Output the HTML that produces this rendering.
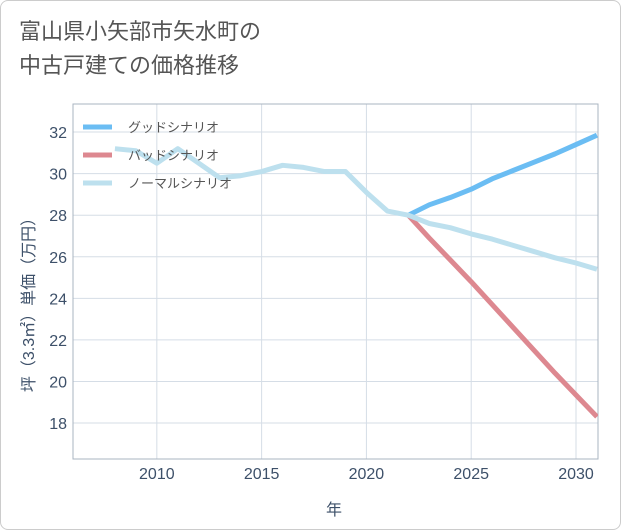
<!DOCTYPE html>
<html><head><meta charset="utf-8"><style>
body{margin:0;background:#fff;font-family:"Liberation Sans","Noto Sans CJK JP",sans-serif;}
#card{position:absolute;left:0;top:0;width:619px;height:528px;border:1px solid #ccc;border-radius:8px;background:#fff;}
#title{position:absolute;left:18px;top:14px;font-size:22px;line-height:34px;color:#555;}
</style></head><body>
<div id="card">
<div id="title">富山県小矢部市矢水町の<br>中古戸建ての価格推移</div>
<svg id="chart" width="621" height="530" style="position:absolute;left:0;top:0"></svg>
</div>
<script>
const years=[2008,2009,2010,2011,2012,2013,2014,2015,2016,2017,2018,2019,2020,2021,2022,2023,2024,2025,2026,2027,2028,2029,2030,2031];
const normal=[31.2,31.1,30.5,31.2,30.5,29.8,29.9,30.1,30.4,30.3,30.1,30.1,29.1,28.2,28.0,27.6,27.4,27.1,26.85,26.55,26.25,25.95,25.7,25.4];
const goodYears=[2022,2023,2024,2025,2026,2027,2028,2029,2030,2031];
const good=[28.0,28.5,28.85,29.25,29.75,30.15,30.55,30.95,31.4,31.85];
const bad=[28.0,26.9,25.85,24.8,23.7,22.6,21.5,20.4,19.35,18.3];
const xTicks=[2010,2015,2020,2025,2030];
const yTicks=[18,20,22,24,26,28,30,32];
const L=72,R=597,T=103,B=458,x0=2006,x1=2031.05,y0=16.27,y1=33.35;
const X=v=>L+(v-x0)/(x1-x0)*(R-L), Y=v=>B-(v-y0)/(y1-y0)*(B-T);
const svg=document.getElementById('chart'),NS='http://www.w3.org/2000/svg';
function mk(t,a,p){const e=document.createElementNS(NS,t);for(const k in a)e.setAttribute(k,a[k]);(p||svg).appendChild(e);return e;}
const defs=mk('defs',{});const cp=mk('clipPath',{id:'c'},defs);mk('rect',{x:L,y:T,width:R-L,height:B-T},cp);
xTicks.forEach(v=>{const l=mk('line',{x1:X(v),x2:X(v),y1:T,y2:B,stroke:'#d5dde6','stroke-width':1});

const t=mk('text',{x:X(v),y:B+20,'text-anchor':'middle','font-size':16,fill:'#3d5069'});t.textContent=v;
});
yTicks.forEach(v=>{const l=mk('line',{x1:L,x2:R,y1:Y(v),y2:Y(v),stroke:'#d5dde6','stroke-width':1});

const t=mk('text',{x:L-6,y:Y(v)+6,'text-anchor':'end','font-size':16,fill:'#3d5069'});t.textContent=v;
});
const fr=mk('rect',{x:L,y:T,width:R-L,height:B-T,fill:'none',stroke:'#aab4c0','stroke-width':1});

function line(xs,ys,c,n){const p=mk('polyline',{points:xs.map((v,i)=>X(v)+','+Y(ys[i])).join(' '),fill:'none',stroke:c,'stroke-width':5,'stroke-linejoin':'round','clip-path':'url(#c)'});
}
line(goodYears,bad,'#dd8890','bad-scenario-line');
line(goodYears,good,'#6bbdf3','good-scenario-line');
line(years,normal,'#bde0ee','normal-scenario-line');
const leg=[['グッドシナリオ','#6bbdf3'],['バッドシナリオ','#dd8890'],['ノーマルシナリオ','#bde0ee']];
leg.forEach((d,i)=>{const y=126+i*28;
const l=mk('line',{x1:82,x2:111,y1:y,y2:y,stroke:d[1],'stroke-width':5});
const t=mk('text',{x:127,y:y+5,'font-size':13,fill:'#555'});t.textContent=d[0];});
const xt=mk('text',{x:333,y:514,'text-anchor':'middle','font-size':16,fill:'#3d5069'});xt.textContent='年';

const yt=mk('text',{x:0,y:0,'text-anchor':'middle','font-size':16,fill:'#3d5069',transform:'translate(33,300) rotate(-90)'});yt.textContent='坪（3.3㎡）単価（万円）';

</script>
</body></html>
